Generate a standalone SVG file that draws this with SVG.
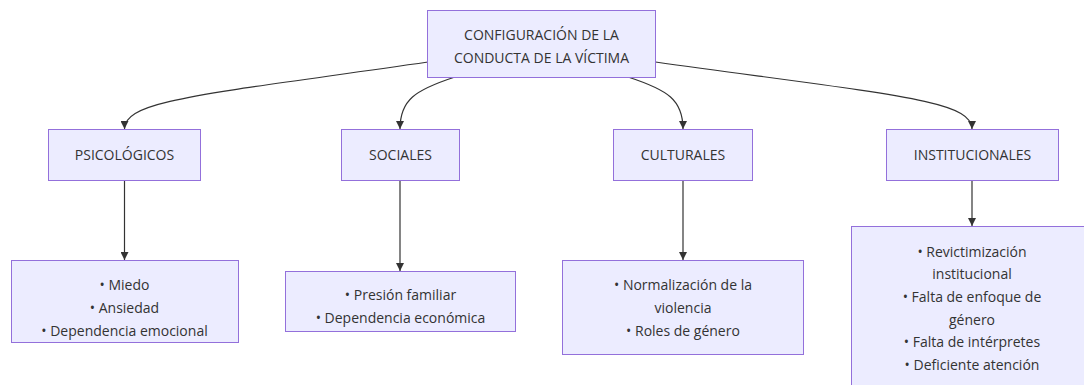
<svg xmlns="http://www.w3.org/2000/svg" width="1084" height="385" viewBox="0 0 1084 385">
<style>
.node rect{fill:#ECECFF;stroke:#9370DB;stroke-width:1}
.node text{font-family:"Open Sans","Liberation Sans",sans-serif;font-size:14px;fill:#333;text-anchor:middle}
.edge{fill:none;stroke:#333;stroke-width:1.2}
</style>
<defs>
<marker id="arr" viewBox="0 0 10 10" refX="10" refY="5" markerUnits="userSpaceOnUse" markerWidth="8" markerHeight="8" orient="auto">
<path d="M0,0 L10,5 L0,10 z" fill="#333"/>
</marker>
</defs>
<g id="connectors">
<path class="edge" d="M428,62 C200,95 124.5,100 124.5,129" marker-end="url(#arr)"/>
<path class="edge" d="M455,77 C415,90 400,100 400,129" marker-end="url(#arr)"/>
<path class="edge" d="M628,77 C668,90 683,100 683,129" marker-end="url(#arr)"/>
<path class="edge" d="M655.5,62 C893,95 972,100 972,129" marker-end="url(#arr)"/>
<path class="edge" d="M124.5,180.5 L124.5,260" marker-end="url(#arr)"/>
<path class="edge" d="M400,180.5 L400,271" marker-end="url(#arr)"/>
<path class="edge" d="M683,180.5 L683,260" marker-end="url(#arr)"/>
<path class="edge" d="M972,180.5 L972,226" marker-end="url(#arr)"/>
</g>
<g id="root" class="node">
<rect x="427.5" y="10.5" width="228" height="67"/>
<text x="541.5" y="40">CONFIGURACIÓN DE LA</text>
<text x="541.5" y="63">CONDUCTA DE LA VÍCTIMA</text>
</g>
<g id="psicologicos" class="node">
<rect x="48.5" y="129.5" width="152" height="51"/>
<text x="124.5" y="160">PSICOLÓGICOS</text>
</g>
<g id="sociales" class="node">
<rect x="341.5" y="129.5" width="118" height="51"/>
<text x="400.5" y="160">SOCIALES</text>
</g>
<g id="culturales" class="node">
<rect x="613.5" y="129.5" width="139" height="51"/>
<text x="683" y="160">CULTURALES</text>
</g>
<g id="institucionales" class="node">
<rect x="886.5" y="129.5" width="172" height="51"/>
<text x="972.5" y="160">INSTITUCIONALES</text>
</g>
<g id="psico-items" class="node">
<rect x="11.5" y="260.5" width="227" height="82"/>
<text x="124.5" y="290">• Miedo</text>
<text x="124.5" y="313">• Ansiedad</text>
<text x="124.5" y="336">• Dependencia emocional</text>
</g>
<g id="soc-items" class="node">
<rect x="285.5" y="271.5" width="230" height="60"/>
<text x="400.5" y="300">• Presión familiar</text>
<text x="400.5" y="323">• Dependencia económica</text>
</g>
<g id="cult-items" class="node">
<rect x="562.5" y="260.5" width="241" height="94"/>
<text x="683" y="289.5">• Normalización de la</text>
<text x="683" y="312.5">violencia</text>
<text x="683" y="335.5">• Roles de género</text>
</g>
<g id="inst-items" class="node">
<rect x="851.5" y="226.5" width="242" height="170"/>
<text x="972" y="256.5">• Revictimización</text>
<text x="972" y="279.2">institucional</text>
<text x="972" y="301.9">• Falta de enfoque de</text>
<text x="972" y="324.6">género</text>
<text x="972" y="347.3">• Falta de intérpretes</text>
<text x="972" y="370">• Deficiente atención</text>
</g>
</svg>
